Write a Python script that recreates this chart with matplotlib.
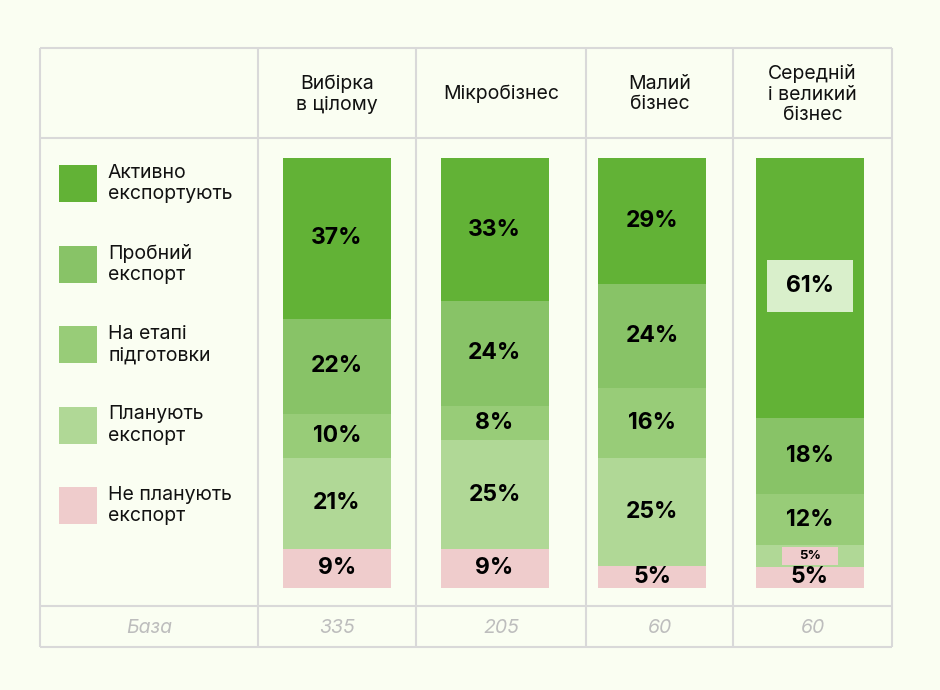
import matplotlib
matplotlib.use("Agg")
import matplotlib.pyplot as plt
from matplotlib.patches import Rectangle
import numpy as np

plt.rcParams['font.family'] = ['Inter', 'DejaVu Sans']

groups = ["Вибірка\nв цілому", "Мікробізнес", "Малий\nбізнес", "Середній\nі великий\nбізнес"]
bases = ["335", "205", "60", "60"]
categories = ["Активно\nекспортують", "Пробний\nекспорт", "На етапі\nпідготовки",
              "Планують\nекспорт", "Не планують\nекспорт"]
active = [37, 33, 29, 61]
trial = [22, 24, 24, 18]
prep = [10, 8, 16, 12]
plan = [21, 25, 25, 5]
no_plan = [9, 9, 5, 5]

colors = ["#62B236", "#88C367", "#98CC78", "#B0D896", "#EFCCCC"]
bg = "#FAFEF2"
grid = "#D9D9D9"

fig = plt.figure(figsize=(9.4, 6.9), dpi=100, facecolor=bg)

# bars area
bx = fig.add_axes([258 / 940, (690 - 588) / 690, (892 - 258) / 940, 430 / 690])
bx.set_facecolor("none")
bx.set_xlim(-0.5, 3.52)
bx.set_ylim(0, 100)
bx.axis("off")

series = [no_plan, plan, prep, trial, active]
series_colors = colors[::-1]
totals = np.sum(series, axis=0)
x = np.arange(len(groups))
bottom = np.zeros(len(groups))
for vals, col in zip(series, series_colors):
    h = np.array(vals) / totals * 100
    bx.bar(x, h, bottom=bottom, width=0.685, color=col, edgecolor="none")
    for i in range(len(groups)):
        cy = bottom[i] + h[i] / 2
        label = f"{vals[i]}%"
        if i == 3 and vals is active:
            bx.add_patch(Rectangle((x[i] - 0.275, cy - 5.5), 0.55, 12, fc="#D9EFCB", ec="none", zorder=3))
            bx.text(x[i], cy + 0.5, label, ha="center", va="center", fontsize=16.5, fontweight="bold", zorder=4)
        elif i == 3 and vals is plan:
            bx.add_patch(Rectangle((x[i] - 0.18, cy - 2.1), 0.36, 4.2, fc="#EFCCCC", ec="none", zorder=3))
            bx.text(x[i], cy, label, ha="center", va="center", fontsize=9.5, fontweight="bold", zorder=4)
        else:
            bx.text(x[i], cy, label, ha="center", va="center", fontsize=16.5, fontweight="bold", zorder=4)
    bottom += h

# table overlay
ax = fig.add_axes([0, 0, 1, 1])
ax.set_facecolor("none")
ax.set_xlim(0, 940)
ax.set_ylim(690, 0)
ax.axis("off")

col_edges = [40, 258, 416, 586, 733, 892]
row_edges = [48, 138, 606, 647]
for yy in row_edges:
    ax.plot([40, 892], [yy, yy], color=grid, lw=1.5, solid_capstyle="butt")
for xx in col_edges:
    ax.plot([xx, xx], [48, 647], color=grid, lw=1.5, solid_capstyle="butt")

centers = [(col_edges[i] + col_edges[i + 1]) / 2 for i in range(1, 5)]
for cx, g in zip(centers, groups):
    ax.text(cx, 94, g, ha="center", va="center", fontsize=14, linespacing=1.2, color="#111111")

ax.text((40 + 258) / 2, 628, "База", ha="center", va="center", fontsize=14,
        style="italic", color="#BDBDBD")
for cx, b in zip(centers, bases):
    ax.text(cx, 628, b, ha="center", va="center", fontsize=14, style="italic", color="#BDBDBD")

# legend
for k, (cat, col) in enumerate(zip(categories, colors)):
    y0 = 165 + k * 80.5
    ax.add_patch(Rectangle((59, y0), 38, 37, fc=col, ec="none"))
    ax.text(108, y0 + 18.5, cat, ha="left", va="center", fontsize=14, linespacing=1.25, color="#111111")

fig.savefig("out.png", dpi=100, facecolor=bg)
